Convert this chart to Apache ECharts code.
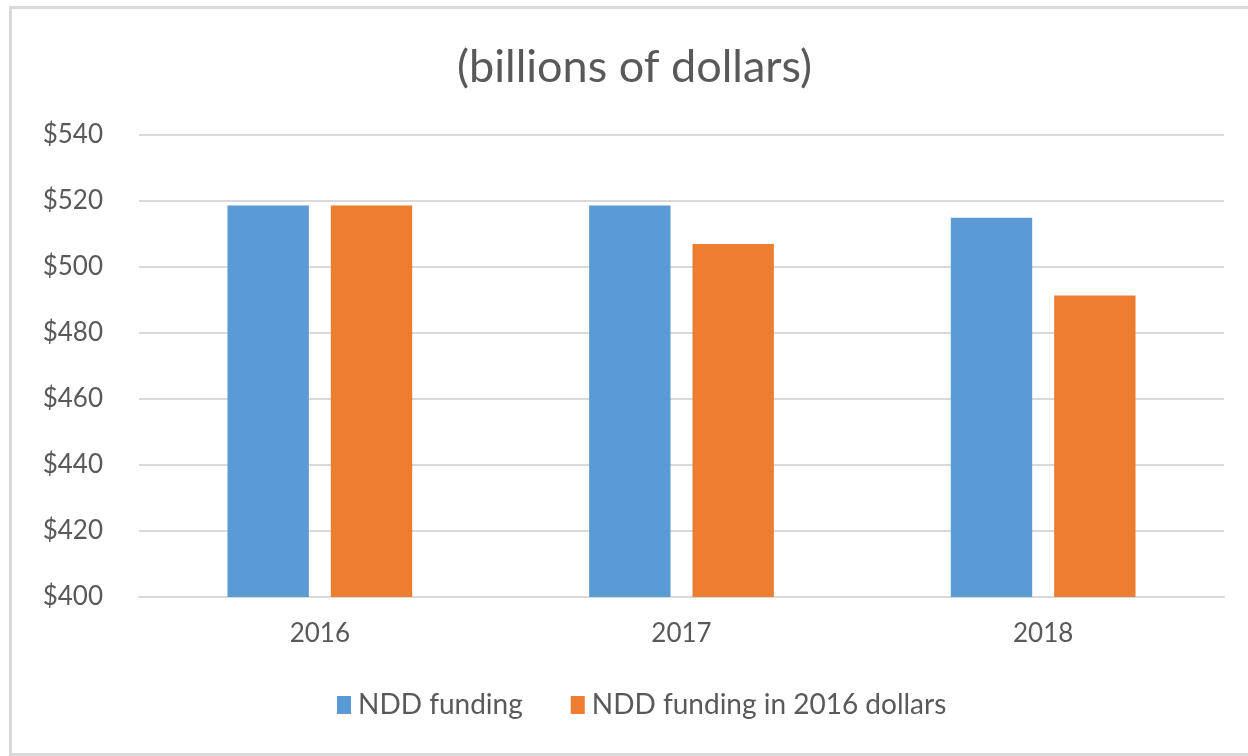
<!DOCTYPE html>
<html>
<head>
<meta charset="utf-8">
<script src="https://cdn.jsdelivr.net/npm/echarts@6/dist/echarts.min.js"></script>
<style>
html,body{margin:0;padding:0;background:#fff;}
#chart{width:1248px;height:756px;}
</style>
</head>
<body>
<div id="chart"></div>
<script>
const categories = ['2016', '2017', '2018'];
const nddFunding = [518.6, 518.6, 514.9];
const nddFunding2016 = [518.6, 507.0, 491.4];
const seriesNames = ['NDD funding', 'NDD funding in 2016 dollars'];
const titleText = '(billions of dollars)';

const chart = echarts.init(document.getElementById('chart'));
const font = 'Lato, "Open Sans", sans-serif';
chart.setOption({
  animation: false,
  backgroundColor: '#fff',
  graphic: [{
    type: 'rect',
    shape: {x: 10.5, y: 7.5, width: 1250, height: 747},
    style: {fill: 'none', stroke: '#D9D9D9', lineWidth: 3},
    silent: true
  }],
  title: {
    text: titleText,
    left: 452,
    top: 40,
    textStyle: {fontFamily: font, fontSize: 45, fontWeight: 'normal', color: '#595959'}
  },
  legend: {
    bottom: 32,
    left: 332,
    itemWidth: 14,
    itemHeight: 18,
    itemGap: 48,
    icon: 'rect',
    textStyle: {fontFamily: font, fontSize: 28, color: '#595959', padding: [0, 0, 0, 2]},
    data: seriesNames
  },
  grid: {left: 139, right: 24, top: 135, bottom: 159, containLabel: false},
  xAxis: {
    type: 'category',
    data: categories,
    axisLine: {lineStyle: {color: '#D9D9D9', width: 2}},
    axisTick: {show: false},
    axisLabel: {fontFamily: font, fontSize: 26, color: '#595959', margin: 24}
  },
  yAxis: {
    type: 'value',
    min: 400,
    max: 540,
    interval: 20,
    axisLine: {show: false},
    axisTick: {show: false},
    splitLine: {lineStyle: {color: '#D9D9D9', width: 2}},
    axisLabel: {fontFamily: font, fontSize: 26, color: '#595959', margin: 36, formatter: v => '$' + v}
  },
  series: [
    {name: seriesNames[0], type: 'bar', data: nddFunding, barWidth: '22.5%', barGap: '27%',
     itemStyle: {color: '#5B9BD5'}},
    {name: seriesNames[1], type: 'bar', data: nddFunding2016, barWidth: '22.5%', barGap: '27%',
     itemStyle: {color: '#ED7D31'}}
  ]
});
</script>
</body>
</html>
